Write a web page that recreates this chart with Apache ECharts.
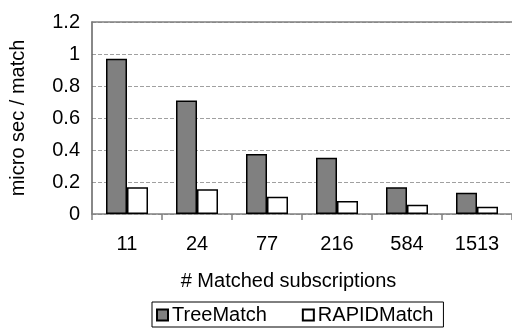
<!DOCTYPE html>
<html>
<head>
<meta charset="utf-8">
<script src="https://cdn.jsdelivr.net/npm/echarts@6/dist/echarts.min.js"></script>
<style>html,body{margin:0;padding:0;background:#fff;}#c{width:512px;height:329px;}</style>
</head>
<body>
<div id="c"></div>
<script>
const categories = ['11', '24', '77', '216', '584', '1513'];
const treeMatch = [0.97, 0.71, 0.375, 0.352, 0.167, 0.133];
const rapidMatch = [0.167, 0.154, 0.108, 0.081, 0.058, 0.046];
const yTicks = { min: 0, max: 1.2, interval: 0.2 };

const font = "'Liberation Sans', Arial, sans-serif";
const chart = echarts.init(document.getElementById('c'));
chart.setOption({
  animation: false,
  backgroundColor: '#ffffff',
  textStyle: { fontFamily: font, color: '#000' },
  grid: { left: 85, top: 22, right: 0, bottom: 115 },
  legend: {
    left: 152, top: 302,
    padding: [3, 10, 2, 4],
    borderColor: '#000', borderWidth: 1,
    itemWidth: 11, itemHeight: 11, itemGap: 35,
    textStyle: { fontFamily: font, fontSize: 20, color: '#000', padding: [0, 0, 0, -1] },
    data: [
      { name: 'TreeMatch', icon: 'rect' },
      { name: 'RAPIDMatch', icon: 'rect' }
    ]
  },
  xAxis: [{
    type: 'category',
    data: categories,
    name: '# Matched subscriptions',
    nameLocation: 'middle',
    nameGap: 57,
    nameTextStyle: { fontFamily: font, fontSize: 20, color: '#000', padding: [0, 27, 0, 0] },
    axisLine: { lineStyle: { color: '#808080', width: 1.5 } },
    axisTick: { show: true, length: 6, lineStyle: { color: '#808080', width: 1.5 } },
    axisLabel: { fontFamily: font, fontSize: 20, color: '#000', margin: 20 },
    splitLine: { show: false }
  }, {
    type: 'category',
    data: categories,
    position: 'top',
    axisLine: { show: true, lineStyle: { color: '#808080', width: 1.5 } },
    axisTick: { show: false },
    axisLabel: { show: false },
    splitLine: { show: false }
  }],
  yAxis: {
    type: 'value',
    min: yTicks.min, max: yTicks.max, interval: yTicks.interval,
    name: 'micro sec / match',
    nameLocation: 'middle',
    nameRotate: 90,
    nameGap: 64,
    nameTextStyle: { fontFamily: font, fontSize: 20, color: '#000' },
    axisLine: { show: true, lineStyle: { color: '#606060', width: 1.5 } },
    axisTick: { show: false },
    axisLabel: { fontFamily: font, fontSize: 20, color: '#000', margin: 12 },
    splitLine: { show: true, lineStyle: { color: '#a0a0a0', type: 'dashed', width: 1 } }
  },
  series: [
    {
      name: 'TreeMatch', type: 'bar', data: treeMatch,
      barWidth: 21, barGap: '0%',
      itemStyle: { color: '#808080', borderColor: '#000', borderWidth: 1.5 }
    },
    {
      name: 'RAPIDMatch', type: 'bar', data: rapidMatch,
      barWidth: 21,
      itemStyle: { color: '#ffffff', borderColor: '#000', borderWidth: 1.5 }
    }
  ]
});
</script>
</body>
</html>
